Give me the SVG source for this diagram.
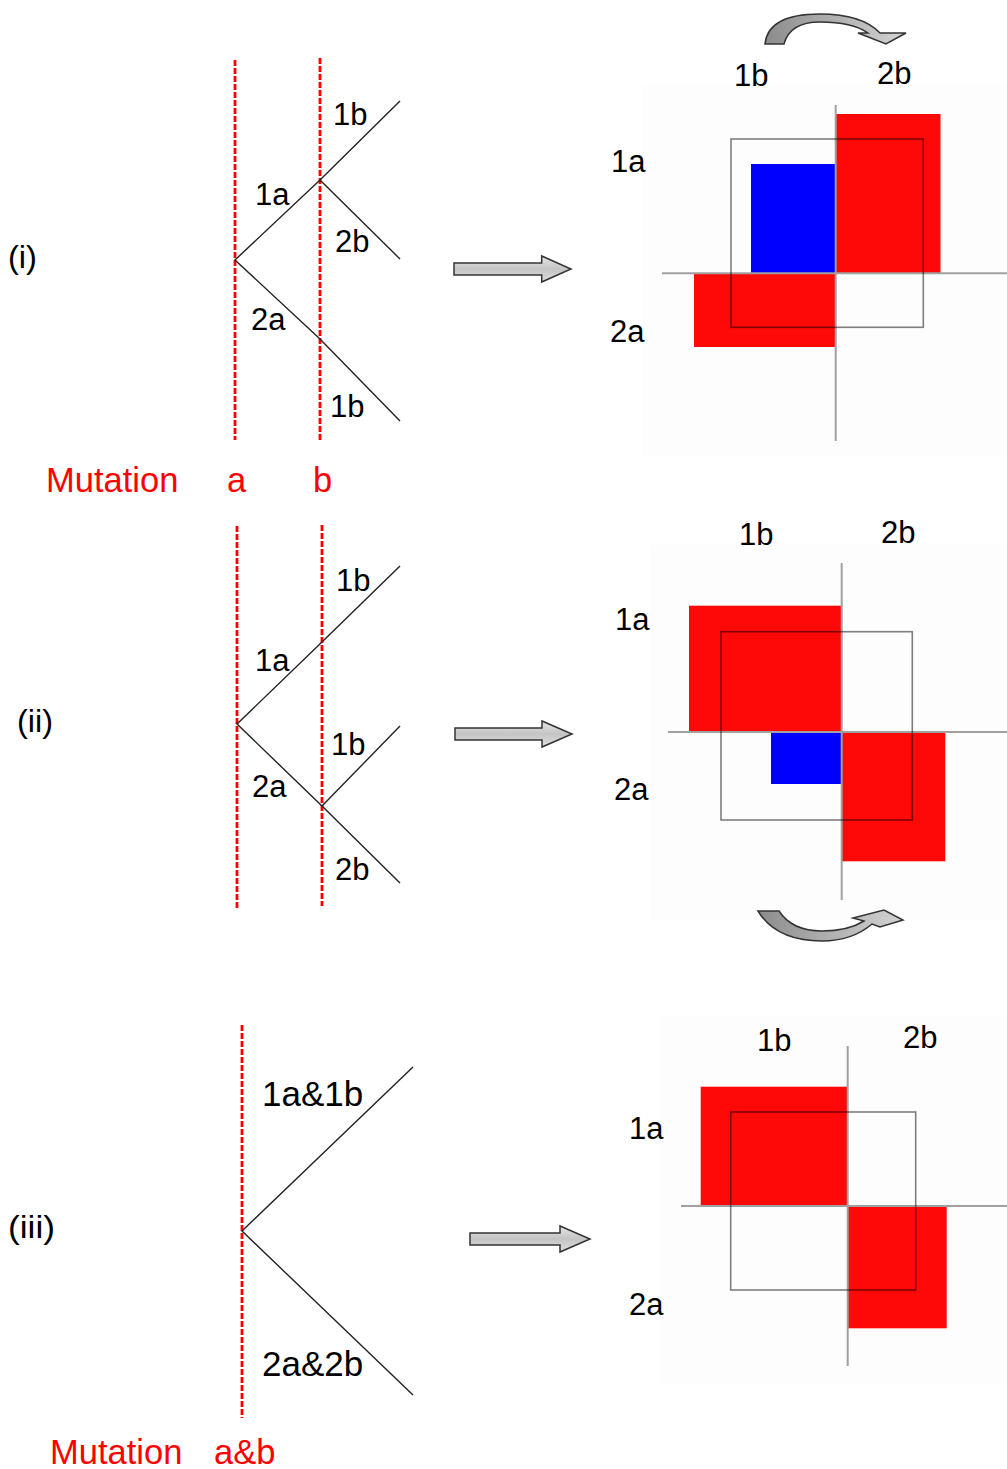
<svg xmlns="http://www.w3.org/2000/svg" width="1007" height="1469" viewBox="0 0 1007 1469">
<defs>
<linearGradient id="shaft" x1="0" y1="0" x2="0" y2="1">
<stop offset="0" stop-color="#e6e6e6"/><stop offset="0.5" stop-color="#c4c4c4"/><stop offset="1" stop-color="#dedede"/>
</linearGradient>
<linearGradient id="curve" x1="0" y1="0" x2="1" y2="0">
<stop offset="0" stop-color="#8c8c8c"/><stop offset="1" stop-color="#d4d4d4"/>
</linearGradient>
<style>
.lbl{font-family:"Liberation Sans",Arial,sans-serif;font-size:31px;fill:#000}
.big{font-size:35px}
.red{font-family:"Liberation Sans",Arial,sans-serif;font-size:34.5px;fill:#ff0000}
.num{font-family:"Liberation Sans",Arial,sans-serif;font-size:31px;fill:#000}
.mut{stroke:#ff0000;stroke-width:2.8;stroke-dasharray:6 2;fill:none}
.br{stroke:#222;stroke-width:1.4;fill:none}
.bg{fill:#fdfdfd}
.ax{stroke:#a0a0a0;stroke-width:2;fill:none}
.rd{fill:#ff0000;opacity:0.97}
.bl{fill:#0000ff}
.sq{fill:none;stroke:#000;stroke-opacity:0.5;stroke-width:1.6}
.blk{fill:url(#shaft);stroke:#333;stroke-width:1.5}
.crv{fill:url(#curve);stroke:#333;stroke-width:1.5}
</style>
</defs>
<rect width="1007" height="1469" fill="#fff"/>

<!-- Panel (i) -->
<g id="label-i"><text class="num" x="8" y="268" textLength="29" lengthAdjust="spacingAndGlyphs">(i)</text></g>
<g id="tree-i">
<line class="mut" x1="235" y1="60" x2="235" y2="440"/>
<line class="mut" x1="320" y1="58" x2="320" y2="440"/>
<text class="lbl" x="333" y="125">1b</text>
<text class="lbl" x="255" y="205">1a</text>
<text class="lbl" x="335" y="252">2b</text>
<text class="lbl" x="251" y="330">2a</text>
<text class="lbl" x="330" y="417">1b</text>
</g>
<g id="mutation-i">
<text class="red" x="46" y="492">Mutation</text>
<text class="red" x="227" y="492">a</text>
<text class="red" x="313" y="492">b</text>
</g>
<g id="grid-i">
<rect class="bg" x="643" y="85" width="364" height="372"/>
<rect class="rd" x="835.5" y="114" width="105" height="159"/>
<rect class="bl" x="751" y="164" width="84.5" height="109"/>
<rect class="rd" x="694" y="273" width="141.5" height="74"/>
<line class="ax" x1="662" y1="273.3" x2="1007" y2="273.3"/>
<line class="ax" x1="835.7" y1="105" x2="835.7" y2="441"/>
<rect class="sq" x="731" y="139" width="192.3" height="188.3"/>
<text class="lbl" x="734" y="86">1b</text>
<text class="lbl" x="877" y="84">2b</text>
<text class="lbl" x="611" y="172">1a</text>
<text class="lbl" x="610" y="342">2a</text>
</g>

<!-- Panel (ii) -->
<g id="label-ii"><text class="num" x="17" y="732" textLength="36" lengthAdjust="spacingAndGlyphs">(ii)</text></g>
<g id="tree-ii">
<line class="mut" x1="237" y1="526" x2="237" y2="908"/>
<line class="mut" x1="322" y1="525" x2="322" y2="906"/>
<text class="lbl" x="336" y="591">1b</text>
<text class="lbl" x="255" y="671">1a</text>
<text class="lbl" x="331" y="755">1b</text>
<text class="lbl" x="252" y="797">2a</text>
<text class="lbl" x="335" y="880">2b</text>
</g>
<g id="grid-ii">
<rect class="bg" x="650" y="545" width="357" height="375"/>
<rect class="rd" x="689" y="605.7" width="152.7" height="126.3"/>
<rect class="bl" x="771" y="732" width="70.7" height="52"/>
<rect class="rd" x="841.7" y="732" width="103.6" height="129.3"/>
<line class="ax" x1="668" y1="732" x2="1007" y2="732"/>
<line class="ax" x1="841.7" y1="563" x2="841.7" y2="900"/>
<rect class="sq" x="721" y="631.7" width="191.3" height="188.3"/>
<text class="lbl" x="739" y="545">1b</text>
<text class="lbl" x="881" y="543">2b</text>
<text class="lbl" x="615" y="630">1a</text>
<text class="lbl" x="614" y="800">2a</text>
</g>

<!-- Panel (iii) -->
<g id="label-iii"><text class="num" x="8" y="1238" textLength="47" lengthAdjust="spacingAndGlyphs">(iii)</text></g>
<g id="tree-iii">
<line class="mut" x1="242" y1="1025" x2="242" y2="1418"/>
<text class="lbl big" x="262" y="1106">1a&amp;1b</text>
<text class="lbl big" x="262" y="1376">2a&amp;2b</text>
</g>
<g id="mutation-iii">
<text class="red" x="50" y="1464">Mutation</text>
<text class="red" x="214" y="1464">a&amp;b</text>
</g>
<g id="grid-iii">
<rect class="bg" x="660" y="1015" width="347" height="370"/>
<rect class="rd" x="700.7" y="1086.7" width="147" height="119.3"/>
<rect class="rd" x="847.7" y="1206" width="99" height="122.3"/>
<line class="ax" x1="681" y1="1206" x2="1007" y2="1206"/>
<line class="ax" x1="847.7" y1="1046" x2="847.7" y2="1366"/>
<rect class="sq" x="730.7" y="1112" width="185" height="178"/>
<text class="lbl" x="757" y="1051">1b</text>
<text class="lbl" x="903" y="1048">2b</text>
<text class="lbl" x="629" y="1139">1a</text>
<text class="lbl" x="629" y="1315">2a</text>
</g>

<!-- Connectors -->
<g id="connectors">
<polyline class="br" points="400,101 320,180 235,260 320,339 400,421"/>
<line class="br" x1="320" y1="180" x2="400" y2="259"/>
<polyline class="br" points="400,566 322,642 237,724 322,806 400,883"/>
<line class="br" x1="322" y1="806" x2="400" y2="726"/>
<polyline class="br" points="413,1067 242,1231 413,1395"/>
<path class="blk" d="M454,263 L541.7,263 L541.7,256 L571,269 L541.7,282 L541.7,275 L454,275 Z"/>
<path class="blk" d="M455,728 L542,728 L542,721 L572,734 L542,747 L542,740 L455,740 Z"/>
<path class="blk" d="M470,1233 L560,1233 L560,1226 L590,1239 L560,1252 L560,1245 L470,1245 Z"/>
<path class="crv" d="M765,44 Q768,14 820,14 Q862,14 880,33 L906,33 L886,44 L858,33 L868,33 Q852,22 820,22 Q790,22 784,44 Z"/>
<path class="crv" d="M758,911 L779,911 Q792,931 822,931 Q848,931 864,921 L853,918 L884,910 L903,920 L880,927 L872,924 Q852,941 822,941 Q776,941 758,911 Z"/>
</g>
</svg>
